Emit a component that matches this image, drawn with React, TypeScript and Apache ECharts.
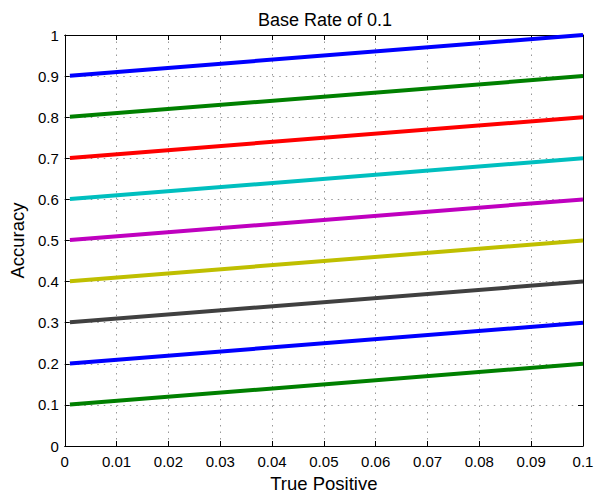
import React, { useEffect, useRef } from "react";
import * as echarts from "echarts";

const xStart = [0.001, 0.1];
const seriesNames = ["0.1", "0.2", "0.3", "0.4", "0.5", "0.6", "0.7", "0.8", "0.9"];
const startValues = [0.101, 0.201, 0.301, 0.401, 0.501, 0.601, 0.701, 0.801, 0.901];
const endValues = [0.2, 0.3, 0.4, 0.5, 0.6, 0.7, 0.8, 0.9, 1.0];
const colors = ["#008000", "#0000ff", "#404040", "#bfbf00", "#bf00bf", "#00bfbf", "#ff0000", "#008000", "#0000ff"];
const xTicks = ["0", "0.01", "0.02", "0.03", "0.04", "0.05", "0.06", "0.07", "0.08", "0.09", "0.1"];
const yTicks = ["0", "0.1", "0.2", "0.3", "0.4", "0.5", "0.6", "0.7", "0.8", "0.9", "1"];

const FONT = "'Liberation Sans', Arial, Helvetica, sans-serif";

export default function App() {
  const ref = useRef<HTMLDivElement>(null);
  useEffect(() => {
    if (!ref.current) return;
    const chart = echarts.init(ref.current, null, { renderer: "svg" });
    const axisCommon = {
      axisLine: { show: true, onZero: false, lineStyle: { color: "#000", width: 1 } },
      axisTick: { show: true, inside: true, length: 5, lineStyle: { color: "#000" } },
    };
    const gridLine = { show: true, lineStyle: { color: "#999", type: [1.5, 5], width: 1 } };
    const fmtX = (v: number) => xTicks[Math.round(v / 0.01)] ?? "";
    const fmtY = (v: number) => yTicks[Math.round(v / 0.1)] ?? "";
    chart.setOption({
      animation: false,
      backgroundColor: "#fff",
      title: {
        text: "Base Rate of 0.1",
        left: 320,
        top: 6,
        textAlign: "center",
        textStyle: { fontFamily: FONT, fontSize: 18, fontWeight: "normal", color: "#000" },
      },
      grid: { left: 62, right: 17, top: 35, bottom: 53 },
      xAxis: [
        {
          type: "value",
          min: 0,
          max: 0.1,
          interval: 0.01,
          position: "bottom",
          name: "True Positive",
          nameLocation: "middle",
          nameGap: 25,
          nameTextStyle: { fontFamily: FONT, fontSize: 18.5, color: "#000" },
          ...axisCommon,
          axisLabel: { formatter: fmtX, fontFamily: FONT, fontSize: 15, color: "#000", margin: 8 },
          splitLine: gridLine,
        },
        {
          type: "value",
          min: 0,
          max: 0.1,
          interval: 0.01,
          position: "top",
          ...axisCommon,
          axisLabel: { show: false },
          splitLine: { show: false },
        },
      ],
      yAxis: [
        {
          type: "value",
          min: 0,
          max: 1,
          interval: 0.1,
          position: "left",
          name: "Accuracy",
          nameLocation: "middle",
          nameGap: 34,
          nameTextStyle: { fontFamily: FONT, fontSize: 18.5, color: "#000" },
          ...axisCommon,
          axisLabel: { formatter: fmtY, fontFamily: FONT, fontSize: 15, color: "#000", margin: 6 },
          splitLine: gridLine,
        },
        {
          type: "value",
          min: 0,
          max: 1,
          interval: 0.1,
          position: "right",
          ...axisCommon,
          axisLabel: { show: false },
          splitLine: { show: false },
        },
      ],
      series: seriesNames.map((name, i) => ({
        name,
        type: "line",
        xAxisIndex: 0,
        yAxisIndex: 0,
        showSymbol: false,
        symbol: "none",
        lineStyle: { color: colors[i], width: 4 },
        data: [
          [xStart[0], startValues[i]],
          [xStart[1], endValues[i]],
        ],
      })),
    });
    return () => chart.dispose();
  }, []);
  return <div ref={ref} style={{ width: 600, height: 499, position: "absolute", left: 0, top: 0 }} />;
}
